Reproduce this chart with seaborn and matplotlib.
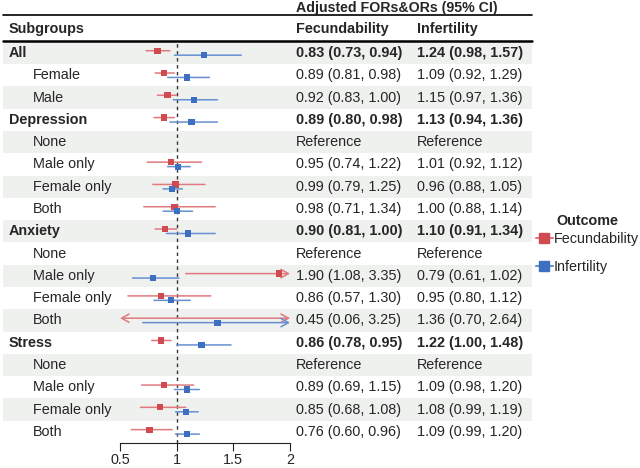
import numpy as np
import pandas as pd
import seaborn as sns
import matplotlib.pyplot as plt
from matplotlib import transforms
from matplotlib.lines import Line2D
from matplotlib.patches import Rectangle

subgroups = ["All", "Female", "Male", "Depression", "None", "Male only", "Female only", "Both",
             "Anxiety", "None", "Male only", "Female only", "Both",
             "Stress", "None", "Male only", "Female only", "Both"]
is_group = [True, False, False, True, False, False, False, False,
            True, False, False, False, False,
            True, False, False, False, False]

nan = np.nan
fec_est = [0.83, 0.89, 0.92, 0.89, nan, 0.95, 0.99, 0.98, 0.90, nan, 1.90, 0.86, 0.45, 0.86, nan, 0.89, 0.85, 0.76]
fec_lo = [0.73, 0.81, 0.83, 0.80, nan, 0.74, 0.79, 0.71, 0.81, nan, 1.08, 0.57, 0.06, 0.78, nan, 0.69, 0.68, 0.60]
fec_hi = [0.94, 0.98, 1.00, 0.98, nan, 1.22, 1.25, 1.34, 1.00, nan, 3.35, 1.30, 3.25, 0.95, nan, 1.15, 1.08, 0.96]

inf_est = [1.24, 1.09, 1.15, 1.13, nan, 1.01, 0.96, 1.00, 1.10, nan, 0.79, 0.95, 1.36, 1.22, nan, 1.09, 1.08, 1.09]
inf_lo = [0.98, 0.92, 0.97, 0.94, nan, 0.92, 0.88, 0.88, 0.91, nan, 0.61, 0.80, 0.70, 1.00, nan, 0.98, 0.99, 0.99]
inf_hi = [1.57, 1.29, 1.36, 1.36, nan, 1.12, 1.05, 1.14, 1.34, nan, 1.02, 1.12, 2.64, 1.48, nan, 1.20, 1.19, 1.20]

xticks = [0.5, 1, 1.5, 2]
xticklabels = ["0.5", "1", "1.5", "2"]
outcomes = ["Fecundability", "Infertility"]
point_cols = {"Fecundability": "#cf4b51", "Infertility": "#3d70c3"}
line_cols = {"Fecundability": "#e07a7e", "Infertility": "#6690d3"}

sns.set_theme(style="white")
plt.rcParams["font.family"] = ["Liberation Sans", "DejaVu Sans"]

W, H = 640, 468
fig = plt.figure(figsize=(6.4, 4.68), dpi=100)

# pixel layout of the table rows
row_top, row_bot = 41.8, 443.0
n = len(subgroups)
step = (row_bot - row_top) / n
ax = fig.add_axes([120 / W, 1 - row_bot / H, 170 / W, (row_bot - row_top) / H])
ax.set_facecolor("none")
ax.set_xlim(0.5, 2)
ax.set_ylim(n - 0.5, -0.5)

def py(p):
    # pixel y -> row units
    return (p - row_top) / step - 0.5

tr = transforms.blended_transform_factory(fig.transFigure, ax.transData)

# zebra shading
for i in range(n):
    if i % 2 == 0:
        ax.add_patch(Rectangle((3 / W, i - 0.5), 529 / W, 1, transform=tr,
                               facecolor="#eff1ef", edgecolor="none", clip_on=False, zorder=0))

# header lines
ax.plot([3 / W, 532 / W], [py(15), py(15)], transform=tr, color="black", lw=1.2, clip_on=False)
ax.plot([3 / W, 532 / W], [py(41), py(41)], transform=tr, color="black", lw=1.8, clip_on=False)

# texts
fs = 10.4
ax.text(296 / W, py(8), "Adjusted FORs&ORs (95% CI)", transform=tr, fontsize=10.2,
        fontweight="bold", va="center", ha="left", clip_on=False)
ax.text(9 / W, py(29), "Subgroups", transform=tr, fontsize=fs, fontweight="bold", va="center")
ax.text(296 / W, py(29), "Fecundability", transform=tr, fontsize=fs, fontweight="bold", va="center")
ax.text(417 / W, py(29), "Infertility", transform=tr, fontsize=fs, fontweight="bold", va="center")


def fmt(e, lo, hi):
    if np.isnan(e):
        return "Reference"
    return f"{e:.2f} ({lo:.2f}, {hi:.2f})"


for i, name in enumerate(subgroups):
    w = "bold" if is_group[i] else "normal"
    x0 = 9 if is_group[i] else 33
    ax.text(x0 / W, i, name, transform=tr, fontsize=fs, fontweight=w, va="center")
    ax.text(296 / W, i, fmt(fec_est[i], fec_lo[i], fec_hi[i]), transform=tr,
            fontsize=fs, fontweight=w, va="center")
    ax.text(417 / W, i, fmt(inf_est[i], inf_lo[i], inf_hi[i]), transform=tr,
            fontsize=fs, fontweight=w, va="center")

# long table for the forest marks
offset = {"Fecundability": -0.1, "Infertility": 0.1}
frames = []
for oc, est, lo, hi in [("Fecundability", fec_est, fec_lo, fec_hi),
                        ("Infertility", inf_est, inf_lo, inf_hi)]:
    frames.append(pd.DataFrame({"row": np.arange(n), "est": est, "lo": lo, "hi": hi, "outcome": oc}))
df = pd.concat(frames, ignore_index=True).dropna()
df["ypos"] = df["row"] + df["outcome"].map(offset)

ax.axvline(1, color="#333333", lw=1.0, ls=(0, (2.5, 2.5)), zorder=1)

xmin, xmax = ax.get_xlim()
for _, r in df.iterrows():
    lo_c, hi_c = max(r["lo"], xmin), min(r["hi"], xmax)
    left, right = r["lo"] < xmin, r["hi"] > xmax
    style = {(False, False): "-", (False, True): "->", (True, False): "<-", (True, True): "<->"}[(left, right)]
    ax.annotate("", xy=(hi_c, r["ypos"]), xytext=(lo_c, r["ypos"]),
                arrowprops=dict(arrowstyle=style if style == "-" else style + ",head_length=0.45,head_width=0.25",
                                color=line_cols[r["outcome"]], lw=1.1, shrinkA=0, shrinkB=0),
                zorder=2)

inside = df[(df["est"] >= xmin) & (df["est"] <= xmax)]
sns.scatterplot(data=inside, x="est", y="ypos", hue="outcome", palette=point_cols, marker="s",
                s=20, linewidth=0, legend=False, ax=ax, zorder=3)
ax.set_ylim(n - 0.5, -0.5)

# axis styling
for s in ["top", "right", "left"]:
    ax.spines[s].set_visible(False)
ax.spines["bottom"].set_color("#222222")
ax.spines["bottom"].set_linewidth(0.8)
ax.set_yticks([])
ax.set_xticks(xticks)
ax.set_xticklabels(xticklabels)
ax.tick_params(axis="x", direction="out", length=5.8, width=0.8, color="#222222",
               labelsize=fs, pad=1.5, bottom=True)
ax.set_xlabel("")
ax.set_ylabel("")

# legend
fig.text(587 / W, 1 - 221 / H, "Outcome", fontsize=fs, fontweight="bold", ha="center", va="center")
handles = [Line2D([], [], color=line_cols[o], lw=1.5, marker="s", ms=7,
                  markerfacecolor=point_cols[o], markeredgecolor=point_cols[o]) for o in outcomes]
fig.legend(handles, outcomes, loc="upper left", bbox_to_anchor=(536 / W, 1 - 232 / H),
           frameon=False, fontsize=fs, handlelength=1.15, handletextpad=0.1,
           labelspacing=1.0, borderaxespad=0, borderpad=0)

fig.savefig("out.png", dpi=100)
